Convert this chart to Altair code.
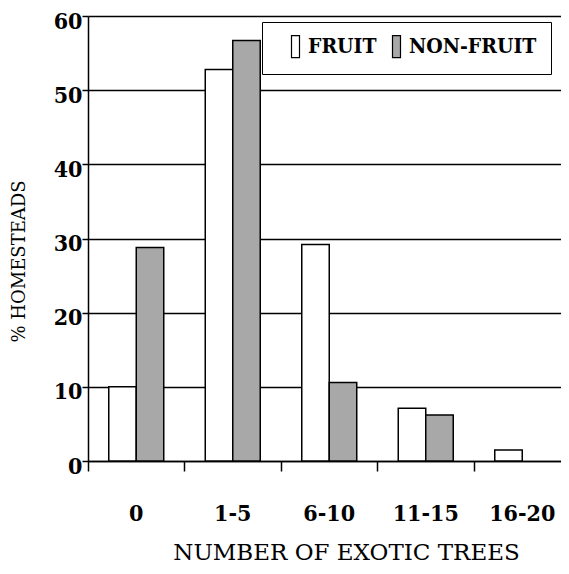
import altair as alt
import pandas as pd

categories = ["0", "1-5", "6-10", "11-15", "16-20"]
fruit = [10.0, 52.8, 29.2, 7.1, 1.5]
non_fruit = [28.8, 56.7, 10.6, 6.2, 0.0]
series = ["FRUIT", "NON-FRUIT"]
y_ticks = [0, 10, 20, 30, 40, 50, 60]

rows = []
for c, f, n in zip(categories, fruit, non_fruit):
    for s, v in ((series[0], f), (series[1], n)):
        if v > 0:
            rows.append({"cat": c, "series": s, "value": v})
df = pd.DataFrame(rows)

serif = "DejaVu Serif"
cond = "DejaVu Serif Condensed"

chart = alt.Chart(df).mark_bar(stroke="black", strokeWidth=1.5, opacity=1).encode(
    x=alt.X("cat:N", sort=categories,
            scale=alt.Scale(domain=categories, paddingInner=0, paddingOuter=0, range=[0, 482.5]),
            axis=alt.Axis(title="NUMBER OF EXOTIC TREES", labelAngle=0,
                          bandPosition=0, tickSize=10,
                          labelPadding=31, labelFont=cond, labelFontSize=23,
                          labelFontWeight="bold", labelColor="black",
                          titleFont=serif, titleFontSize=23, titleFontWeight="normal",
                          titleColor="black", titleX=258, titleY=80,
                          domainColor="black", domainWidth=1.5,
                          tickColor="black", tickWidth=1.5, grid=False)),
    xOffset=alt.XOffset("series:N", sort=series,
                        scale=alt.Scale(domain=series, paddingInner=0, paddingOuter=0.755)),
    y=alt.Y("value:Q", scale=alt.Scale(domain=[0, 60], nice=False),
            axis=alt.Axis(title="% HOMESTEADS", values=y_ticks, tickSize=6,
                          labelPadding=0, labelOffset=5, labelFont=cond, labelFontSize=23,
                          labelFontWeight="bold", labelColor="black",
                          titleFont=serif, titleFontSize=18, titleFontWeight="normal",
                          titleColor="black", titleX=-60, titleY=245,
                          domainColor="black", domainWidth=1.5,
                          tickColor="black", tickWidth=1.5,
                          grid=True, gridColor="black", gridWidth=1.5, gridOpacity=1)),
    color=alt.Color("series:N", sort=series,
                    scale=alt.Scale(domain=series, range=["#ffffff", "#a8a8a8"]),
                    legend=alt.Legend(title=None, orient="none", legendX=174, legendY=6,
                                      direction="horizontal",
                                      symbolType="M-1,-2.75H1V2.75H-1Z",
                                      symbolSize=64, symbolStrokeColor="black",
                                      symbolStrokeWidth=1.2, symbolOpacity=1,
                                      symbolOffset=9,
                                      labelOffset=2, columnPadding=0,
                                      labelFont=cond, labelFontSize=21,
                                      labelFontWeight="bold", labelColor="black",
                                      labelLimit=300,
                                      strokeColor="black", fillColor="white",
                                      padding=14)),
).properties(
    width=473,
    height=445,
    autosize=alt.AutoSizeParams(type="none"),
    padding={"left": 80, "top": 8, "right": 0, "bottom": 105},
).configure_view(stroke=None)

chart.save("out.html", embed_options={"renderer": "svg", "actions": False})
